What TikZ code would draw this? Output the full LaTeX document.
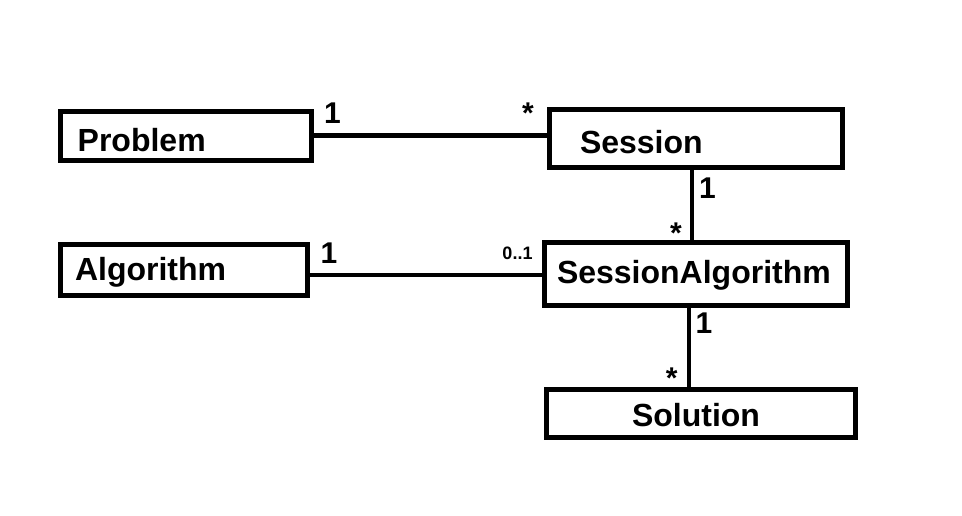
\documentclass[tikz,border=0pt]{standalone}
\usepackage{fontspec}
\setmainfont{Liberation Sans}
\usepackage{tikz}

\begin{document}
\begin{tikzpicture}[x=1pt, y=-1pt,
    classbox/.style={draw, line width=5pt, align=left, inner ysep=0pt,
        font=\bfseries\fontsize{32}{32}\selectfont},
    mult/.style={font=\bfseries\fontsize{30}{30}\selectfont, anchor=north,
        inner sep=0pt},
    assoc/.style={line width=4.5pt}]
    \useasboundingbox (0,0) rectangle (962,515);

    \node[classbox, inner xsep=17.7pt, text width=215.6pt, text height=40pt, text depth=9pt]
        (Problem) at (185.5,135.5) {Problem};
    \node[classbox, inner xsep=31pt, text width=231.5pt, text height=44.3pt, text depth=13.7pt]
        (Session) at (695.75,138) {Session};
    \node[classbox, inner xsep=15pt, text width=217.5pt, text height=36pt, text depth=15.5pt]
        (Algorithm) at (183.75,269.75) {Algorithm};
    \node[classbox, inner xsep=12.5pt, text width=278pt, text height=41.3pt, text depth=21.7pt]
        (SessionAlgorithm) at (696,273.5) {SessionAlgorithm};
    \node[classbox, inner xsep=86pt, text width=137pt, text height=37.7pt, text depth=10.8pt]
        (Solution) at (700.5,413.25) {Solution};

    \draw[assoc] (Problem.east) -- (Problem.east -| Session.west);
    \draw[assoc] ([xshift=-4pt]Session.south) -- ([xshift=-4pt]Session.south |- SessionAlgorithm.north);
    \draw[assoc] ([yshift=-1.5pt]SessionAlgorithm.west -| Algorithm.east) -- ([yshift=-1.5pt]SessionAlgorithm.west);
    \draw[assoc] ([xshift=-7pt]SessionAlgorithm.south) -- ([xshift=-7pt]SessionAlgorithm.south |- Solution.north);

    \node[mult] (pOne) at (332.5,103) {1};
    \node[mult] (sStar) at (528,103) {*};
    \node[mult] (sOne) at (707.5,178) {1};
    \node[mult] (saStar) at (676,223) {*};
    \node[mult] (aOne) at (329,243) {1};
    \node[mult, font=\bfseries\fontsize{18}{18}\selectfont] (saZeroOne) at (517.5,246.7) {0..1};
    \node[mult] (saOne) at (704,312.7) {1};
    \node[mult] (solStar) at (671.7,368) {*};
\end{tikzpicture}
\end{document}
